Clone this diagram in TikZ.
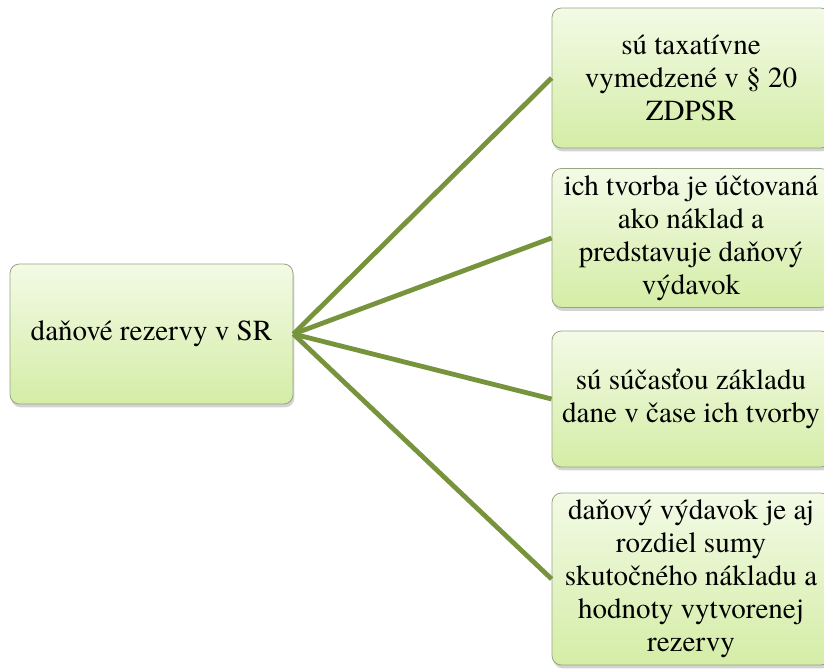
\documentclass[tikz,border=0pt]{standalone}
\usepackage{fontspec}
\IfFontExistsTF{texgyretermes-regular.otf}{\setmainfont{texgyretermes-regular.otf}}{\setmainfont{Liberation Serif}}
\usetikzlibrary{shadows}
\definecolor{linegreen}{RGB}{119,147,60}
\definecolor{boxtop}{RGB}{243,250,230}
\definecolor{boxbot}{RGB}{212,237,166}
\definecolor{boxborder}{RGB}{150,165,130}
\tikzset{
  box/.style={draw=boxborder, line width=0.6pt, rounded corners=7pt,
    top color=boxtop, bottom color=boxbot, align=center,
    font=\fontsize{21.8}{24.8}\selectfont, inner sep=0pt,
    drop shadow={opacity=0.35, shadow xshift=1pt, shadow yshift=-2.5pt}},
  link/.style={draw=linegreen, line width=3.6pt}
}
\begin{document}
\begin{tikzpicture}[x=0.75pt,y=-0.75pt]
\useasboundingbox (0,0) rectangle (824,669);
\clip (0,0) rectangle (824,669);
\node[box, minimum width=283*0.75pt, minimum height=140*0.75pt] (root) at (151.5,334) {daňové rezervy v SR};
\node[box, minimum width=278*0.75pt, minimum height=140*0.75pt] (a) at (691,78) {sú taxatívne\\vymedzené v § 20\\ZDPSR};
\node[box, minimum width=278*0.75pt, minimum height=139*0.75pt] (b) at (691,238) {ich tvorba je účtovaná\\ako náklad a\\predstavuje daňový\\výdavok};
\node[box, minimum width=278*0.75pt, minimum height=136*0.75pt] (c) at (691,399) {sú súčasťou základu\\dane v čase ich tvorby};
\node[box, minimum width=278*0.75pt, minimum height=172*0.75pt] (d) at (691,579) {daňový výdavok je aj\\rozdiel sumy\\skutočného nákladu a\\hodnoty vytvorenej\\rezervy};
\draw[link] (root.east) -- (a.west);
\draw[link] (root.east) -- (b.west);
\draw[link] (root.east) -- (c.west);
\draw[link] (root.east) -- (d.west);
\end{tikzpicture}
\end{document}
